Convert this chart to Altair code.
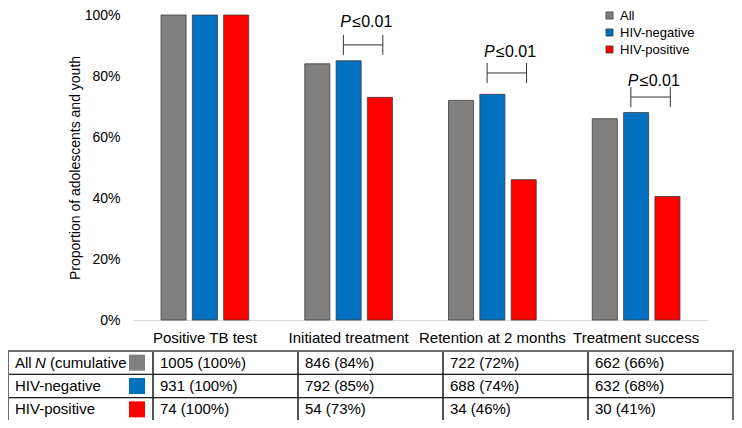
import altair as alt
import pandas as pd

# ---------------- data ----------------
stages = ["Positive TB test", "Initiated treatment", "Retention at 2 months", "Treatment success"]
groups = ["All", "HIV-negative", "HIV-positive"]
colors = ["#808080", "#0070C0", "#FF0000"]

pct_all = [100, 84, 72, 66]
pct_neg = [100, 85, 74, 68]
pct_pos = [100, 73, 46, 40.5]

n_all = [1005, 846, 722, 662]
n_neg = [931, 792, 688, 632]
n_pos = [74, 54, 34, 30]
tab_pct_all = [100, 84, 72, 66]
tab_pct_neg = [100, 85, 74, 68]
tab_pct_pos = [100, 73, 46, 41]

row_labels = ["All", "HIV-negative", "HIV-positive"]

sig_stages = ["Initiated treatment", "Retention at 2 months", "Treatment success"]
sig_line = [90.2, 81.0, 73.1]
sig_text = [97.7, 87.9, 78.4]

# ---------------- tables ----------------
bars = pd.DataFrame(
    [{"stage": s, "group": g, "value": v}
     for g, vals in zip(groups, [pct_all, pct_neg, pct_pos])
     for s, v in zip(stages, vals)]
)

sig = pd.DataFrame({"stage": sig_stages, "line": sig_line, "text": sig_text})

cells = []
for r, (g, ns, ps) in enumerate(zip(groups, [n_all, n_neg, n_pos], [tab_pct_all, tab_pct_neg, tab_pct_pos])):
    for c, (n, p) in enumerate(zip(ns, ps)):
        cells.append({"c0": c + 1, "c1": c + 2, "r0": r, "r1": r + 1, "rm": r + 0.5,
                      "label": f"{n} ({p}%)", "group": g})
    cells.append({"c0": 0, "c1": 1, "r0": r, "r1": r + 1, "rm": r + 0.5,
                  "label": row_labels[r], "group": g})
cells = pd.DataFrame(cells)
frame = pd.DataFrame({"c0": [0], "c1": [len(stages) + 1], "r0": [0], "r1": [len(groups)]})
first_row = cells[(cells.c0 == 0) & (cells.r0 == 0)]
first_col = cells[cells.c0 == 0]

FONT = "Liberation Sans"

# ---------------- scales / axes ----------------
xscale = alt.Scale(domain=stages, paddingInner=0.39, paddingOuter=0.195)
yscale = alt.Scale(domain=[0, 100], nice=False)
cscale = alt.Scale(domain=groups, range=colors)
tx = alt.Scale(domain=[0, 5], range=[-125, 600], nice=False, zero=False)
ty = alt.Scale(domain=[0, 3], range=[336, 406], nice=False, zero=False)

xaxis = alt.Axis(title=None, labelAngle=0, ticks=False, domainColor="#d9d9d9",
                 labelFontSize=15, labelPadding=10, grid=False, labelColor="#000")
yaxis = alt.Axis(values=[0, 20, 40, 60, 80, 100], labelExpr="datum.value + '%'",
                 title="Proportion of adolescents and youth", grid=False, domain=False,
                 ticks=False, labelPadding=13, labelFontSize=14, titleFontSize=14,
                 titleFontWeight="normal", titlePadding=2, labelColor="#000", titleColor="#000")

# ---------------- bar chart ----------------
bar_layer = alt.Chart(bars).mark_bar(stroke="#3c3c3c", strokeWidth=0.8).encode(
    x=alt.X("stage:N", scale=xscale, sort=stages, axis=xaxis),
    xOffset=alt.XOffset("group:N", scale=alt.Scale(domain=groups, paddingInner=0.2, paddingOuter=0), sort=groups),
    y=alt.Y("value:Q", scale=yscale, axis=yaxis),
    color=alt.Color("group:N", scale=cscale, sort=groups,
                    legend=alt.Legend(title=None, orient="none", legendX=470, legendY=-6,
                                      symbolType="square", symbolSize=50, labelFontSize=13,
                                      rowPadding=3, padding=0, labelOffset=4,
                                      symbolStrokeColor="#404040", symbolStrokeWidth=0.8,
                                      labelColor="#000")),
)

L, R = 0.44, 0.89
hrule = alt.Chart(sig).mark_rule(color="#333333", strokeWidth=1).encode(
    x=alt.X("stage:N", bandPosition=L, scale=xscale, sort=stages, axis=xaxis),
    x2=alt.X2("stage", bandPosition=R),
    y=alt.Y("line:Q", scale=yscale, axis=yaxis),
)
vrule_l = alt.Chart(sig).mark_rule(color="#333333", strokeWidth=1, yOffset=-10, y2Offset=10).encode(
    x=alt.X("stage:N", bandPosition=L, scale=xscale, sort=stages, axis=xaxis),
    y=alt.Y("line:Q", scale=yscale, axis=yaxis),
    y2="line:Q",
)
vrule_r = alt.Chart(sig).mark_rule(color="#333333", strokeWidth=1, yOffset=-10, y2Offset=10).encode(
    x=alt.X("stage:N", bandPosition=R, scale=xscale, sort=stages, axis=xaxis),
    y=alt.Y("line:Q", scale=yscale, axis=yaxis),
    y2="line:Q",
)
p_txt = alt.Chart(sig).mark_text(fontStyle="italic", align="left", baseline="middle",
                                 fontSize=16, dx=-3, color="#000").encode(
    x=alt.X("stage:N", bandPosition=L, scale=xscale, sort=stages, axis=xaxis),
    y=alt.Y("text:Q", scale=yscale, axis=yaxis),
    text=alt.value("P"),
)
v_txt = alt.Chart(sig).mark_text(align="left", baseline="middle", fontSize=16, dx=9, color="#000").encode(
    x=alt.X("stage:N", bandPosition=L, scale=xscale, sort=stages, axis=xaxis),
    y=alt.Y("text:Q", scale=yscale, axis=yaxis),
    text=alt.value("≤0.01"),
)

plot = alt.layer(bar_layer, hrule, vrule_l, vrule_r, p_txt, v_txt)

# ---------------- table ----------------
grid = alt.Chart(cells).mark_rect(fillOpacity=0, stroke="#1a1a1a", strokeWidth=1).encode(
    x=alt.X("c0:Q", scale=tx, axis=None), x2="c1:Q",
    y=alt.Y("r0:Q", scale=ty, axis=None), y2="r1:Q",
)
outer = alt.Chart(frame).mark_rect(fillOpacity=0, stroke="#6e6e6e", strokeWidth=2).encode(
    x=alt.X("c0:Q", scale=tx, axis=None), x2="c1:Q",
    y=alt.Y("r0:Q", scale=ty, axis=None), y2="r1:Q",
)
cell_txt = alt.Chart(cells).mark_text(align="left", baseline="middle", fontSize=15, dx=7, color="#000").encode(
    x=alt.X("c0:Q", scale=tx, axis=None),
    y=alt.Y("rm:Q", scale=ty, axis=None),
    text="label:N",
)
n_txt = alt.Chart(first_row).mark_text(align="left", baseline="middle", fontSize=15, dx=27,
                                       fontStyle="italic", color="#000").encode(
    x=alt.X("c0:Q", scale=tx, axis=None),
    y=alt.Y("rm:Q", scale=ty, axis=None),
    text=alt.value("N"),
)
cum_txt = alt.Chart(first_row).mark_text(align="left", baseline="middle", fontSize=15, dx=42, color="#000").encode(
    x=alt.X("c0:Q", scale=tx, axis=None),
    y=alt.Y("rm:Q", scale=ty, axis=None),
    text=alt.value("(cumulative"),
)
swatch = alt.Chart(first_col).mark_square(size=256, xOffset=-16, opacity=1).encode(
    x=alt.X("c1:Q", scale=tx, axis=None),
    y=alt.Y("rm:Q", scale=ty, axis=None),
    color=alt.Color("group:N", scale=cscale, legend=None),
)

table = alt.layer(grid, cell_txt, n_txt, cum_txt, swatch, outer)

chart = alt.layer(plot, table).resolve_scale(x="independent", y="independent").properties(
    width=575, height=305,
    autosize=alt.AutoSizeParams(type="none"),
    padding={"left": 125, "top": 7, "right": 26, "bottom": 100},
).configure(font=FONT).configure_view(stroke=None)

chart.save("out.html", embed_options={"renderer": "svg", "actions": False})
